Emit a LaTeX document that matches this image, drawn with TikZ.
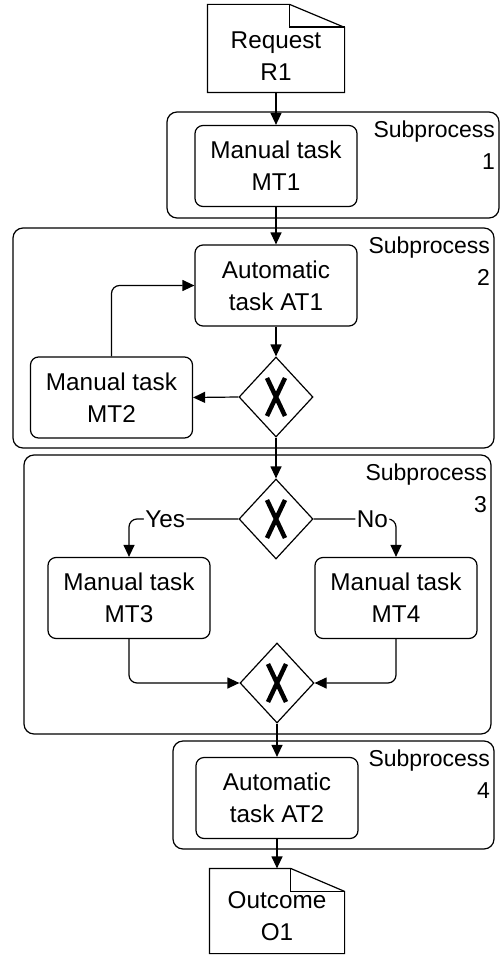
\documentclass[tikz,border=0pt]{standalone}
\usepackage{fontspec}
\setmainfont{Liberation Sans}
\usetikzlibrary{shapes.geometric,arrows.meta,calc}

\begin{document}
\begin{tikzpicture}[x=1pt,y=-1pt,
  line width=1.2pt,
  txt/.style={font=\fontsize{24.3}{32}\selectfont, align=center},
  task/.style={draw, rounded corners=8pt, minimum width=162pt,
    minimum height=81pt, inner sep=0pt, txt},
  sub/.style={draw, rounded corners=10pt, inner sep=0pt},
  sublabel/.style={font=\fontsize{23}{32}\selectfont, align=right,
    anchor=north east, inner sep=0pt},
  doc/.style={inner sep=0pt},
  gate/.style={diamond, draw, fill=white, minimum width=74pt,
    minimum height=80pt, inner sep=0pt,
    path picture={
      \draw[line width=4.5pt]
        ($(path picture bounding box.center)+(-9pt,19pt)$) -- ++(18pt,-38pt)
        ($(path picture bounding box.center)+(-9pt,-19pt)$) -- ++(18pt,38pt);
    }},
  arr/.style={-{Triangle[length=12pt,width=11pt]}},
  lbl/.style={font=\fontsize{24.3}{28}\selectfont, fill=white, inner sep=1.5pt}
]
\useasboundingbox (0,0) rectangle (501,955);

% subprocess containers
\node[sub, minimum width=332pt, minimum height=106pt] (sp1) at (333,165) {};
\node[sub, minimum width=481pt, minimum height=220pt] (sp2) at (253.5,338) {};
\node[sub, minimum width=467pt, minimum height=279pt] (sp3) at (257.5,594.5) {};
\node[sub, minimum width=321pt, minimum height=108pt] (sp4) at (333.5,795) {};

\node[sublabel] (sp1l) at ($(sp1.north east)+(-4pt,-9pt)$) {Subprocess\\1};
\node[sublabel] (sp2l) at ($(sp2.north east)+(-4pt,-9pt)$) {Subprocess\\2};
\node[sublabel] (sp3l) at ($(sp3.north east)+(-4pt,-9pt)$) {Subprocess\\3};
\node[sublabel] (sp4l) at ($(sp4.north east)+(-4pt,-9pt)$) {Subprocess\\4};

% input document
\node[doc, minimum width=136pt, minimum height=87pt] (req) at (276,48.5) {};
\draw (req.south west) -- (req.north west) -- ([xshift=-55pt]req.north east)
  -- ([yshift=-23pt]req.north east) -- (req.south east) -- cycle;
\draw ([xshift=-55pt]req.north east) |- ([yshift=-23pt]req.north east);
\draw[line width=2.2pt] ([xshift=-55pt,yshift=-23pt]req.north east)
  -- ([yshift=-23pt]req.north east);
\node[txt, inner sep=0pt] (reqt) at (276,56) {Request\\R1};

% output document
\node[doc, minimum width=134pt, minimum height=84pt] (out) at (277,911) {};
\draw (out.south west) -- (out.north west) -- ([xshift=-54pt]out.north east)
  -- ([yshift=-23pt]out.north east) -- (out.south east) -- cycle;
\draw ([xshift=-54pt]out.north east) |- ([yshift=-23pt]out.north east);
\node[txt, inner sep=0pt] (outt) at (277,916.5) {Outcome\\O1};

% tasks
\node[task] (mt1) at (276,166) {Manual task\\MT1};
\node[task] (at1) at (276,285.5) {Automatic\\task AT1};
\node[task] (mt2) at (111.5,397.5) {Manual task\\MT2};
\node[task] (mt3) at (129,598) {Manual task\\MT3};
\node[task] (mt4) at (396,598) {Manual task\\MT4};
\node[task] (at2) at (277,798) {Automatic\\task AT2};

% gateways
\node[gate] (g1) at (276,397) {};
\node[gate] (g2) at (276,519) {};
\node[gate] (g3) at (277,683) {};

% flow
\draw[arr] (req.south) -- (mt1.north);
\draw[arr] (mt1.south) -- (at1.north);
\draw[arr] (at1.south) -- (g1.north);
\draw[arr] (g1.west) -- (mt2.east);
\draw[arr, rounded corners=8pt] (mt2.north) |- (at1.west);
\draw[arr] (g1.south) -- (g2.north);
\draw[arr, rounded corners=8pt] (g2.west) -| (mt3.north)
  node[lbl, pos=0.335] (yes) {Yes};
\draw[arr, rounded corners=8pt] (g2.east) -| (mt4.north)
  node[lbl, pos=0.357] (no) {No};
\draw[arr, rounded corners=8pt] (mt3.south) |- (g3.west);
\draw[arr, rounded corners=8pt] (mt4.south) |- (g3.east);
\draw[arr] (g3.south) -- (at2.north);
\draw[arr] (at2.south) -- (out.north);
\end{tikzpicture}
\end{document}
